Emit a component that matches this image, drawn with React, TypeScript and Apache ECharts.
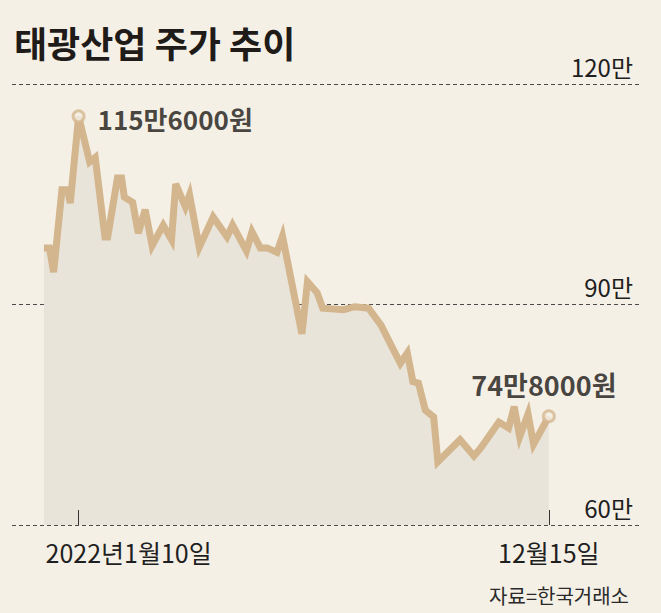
import React, { useEffect, useRef } from "react";
import * as echarts from "echarts";

const dates: string[] = [
  "2021-12-16", "2021-12-20", "2021-12-23", "2021-12-29", "2022-01-02", "2022-01-04",
  "2022-01-10", "2022-01-18", "2022-01-22", "2022-01-29", "2022-01-31", "2022-02-07",
  "2022-02-10", "2022-02-12", "2022-02-18", "2022-02-22", "2022-02-27", "2022-03-04",
  "2022-03-12", "2022-03-18", "2022-03-21", "2022-03-28", "2022-03-31", "2022-04-07",
  "2022-04-17", "2022-04-27", "2022-05-01", "2022-05-11", "2022-05-15", "2022-05-21",
  "2022-05-26", "2022-06-02", "2022-06-06", "2022-06-20", "2022-06-24", "2022-07-01",
  "2022-07-05", "2022-07-20", "2022-07-28", "2022-08-07", "2022-08-16", "2022-08-24",
  "2022-08-30", "2022-09-04", "2022-09-08", "2022-09-12", "2022-09-17", "2022-09-23",
  "2022-09-26", "2022-10-12", "2022-10-22", "2022-10-27", "2022-11-09", "2022-11-16",
  "2022-11-20", "2022-11-24", "2022-11-30", "2022-12-04", "2022-12-15",
];

// 주가 (만원)
const prices: number[] = [
  97.7, 97.7, 94.4, 105.6, 105.6, 103.8,
  115.6, 109.4, 110.0, 99.2, 99.2, 107.2,
  107.2, 104.6, 103.9, 99.7, 102.9, 98.0,
  100.8, 98.8, 106.4, 103.3, 104.9, 97.8,
  101.9, 99.2, 100.8, 97.3, 99.9, 97.7,
  97.7, 97.1, 99.3, 86.0, 93.1, 91.6,
  89.5, 89.3, 89.7, 89.5, 87.2, 84.2,
  82.0, 83.4, 79.5, 79.3, 75.6, 74.7,
  68.6, 71.6, 69.4, 70.5, 74.0, 73.2,
  76.1, 72.0, 75.1, 71.0, 74.8,
];

const yTicks: number[] = [60, 90, 120];
const xTickDates: string[] = ["2022-01-10", "2022-12-15"];
const xTickLabels: string[] = ["2022년1월10일", "12월15일"];
const xRange: string[] = ["2021-11-23", "2023-02-18"];
const peakLabel = "115만6000원";
const lastLabel = "74만8000원";
const titleText = "태광산업 주가 추이";
const sourceText = "자료=한국거래소";

const FONT = '"Noto Sans CJK KR", "Noto Sans", sans-serif';
const BG = "#f5f0e6";
const LINE = "#d4b68e";
const FILL = "#e8e4da";

const DAY = 86400000;
const BASE = Date.UTC(2022, 0, 10);
function toDay(d: string): number {
  const [y, m, dd] = d.split("-").map(Number);
  return Math.round((Date.UTC(y, m - 1, dd) - BASE) / DAY);
}

export default function App() {
  const ref = useRef<HTMLDivElement>(null);

  useEffect(() => {
    if (!ref.current) return;
    const chart = echarts.init(ref.current, undefined, { renderer: "svg" });

    const seriesData = dates.map((d, i) => [toDay(d), prices[i]]);
    let peakIdx = 0;
    prices.forEach((p, i) => {
      if (p > prices[peakIdx]) peakIdx = i;
    });
    const lastIdx = prices.length - 1;
    const tickDays = xTickDates.map(toDay);

    const option: any = {
      animation: false,
      backgroundColor: BG,
      textStyle: { fontFamily: FONT },
      title: [
        {
          text: titleText,
          left: 9,
          top: 19,
          textStyle: { fontSize: 36, fontWeight: "bold", color: "#1f1b18", fontFamily: FONT },
        },
        {
          text: sourceText,
          right: 27,
          top: 580,
          textStyle: { fontSize: 20, fontWeight: "normal", color: "#2a2a2a", fontFamily: FONT },
        },
      ],
      grid: { left: 12, right: 22, top: 84, bottom: 88 },
      xAxis: {
        type: "value",
        z: 4,
        min: toDay(xRange[0]),
        max: toDay(xRange[1]),
        axisLine: { show: false },
        splitLine: { show: false },
        axisTick: {
          show: true,
          inside: true,
          length: 15,
          customValues: tickDays,
          lineStyle: { color: "#333", width: 1 },
        },
        axisLabel: {
          customValues: tickDays,
          margin: 14,
          fontSize: 25,
          color: "#1f1f1f",
          fontFamily: FONT,
          formatter: (v: number) => {
            const i = tickDays.indexOf(Math.round(v));
            if (i === 0) return "{a|" + xTickLabels[0] + "}";
            if (i === 1) return xTickLabels[1];
            return "";
          },
          rich: {
            a: { fontSize: 25, color: "#1f1f1f", fontFamily: FONT, padding: [0, 0, 0, 100] },
          },
        },
      },
      yAxis: {
        type: "value",
        position: "right",
        min: yTicks[0],
        max: yTicks[yTicks.length - 1],
        interval: 30,
        axisLine: { show: false },
        axisTick: { show: false },
        splitLine: { show: true, lineStyle: { color: "#4a4a4a", type: [4, 3], width: 1 } },
        axisLabel: {
          inside: true,
          margin: 6,
          fontSize: 24,
          color: "#1f1f1f",
          fontFamily: FONT,
          verticalAlign: "bottom",
          padding: [0, 0, 6, 0],
          formatter: (v: number) => v + "만",
        },
      },
      series: [
        {
          type: "line",
          data: seriesData,
          symbol: "none",
          lineStyle: { color: LINE, width: 7, join: "miter", miterLimit: 4 },
          areaStyle: { color: FILL, opacity: 1 },
          z: 2,
        },
        {
          type: "scatter",
          z: 5,
          symbol: "circle",
          symbolSize: 11,
          itemStyle: { color: BG, borderColor: LINE, borderWidth: 3 },
          data: [
            {
              value: seriesData[peakIdx],
              label: {
                show: true,
                position: "right",
                distance: 12,
                offset: [0, 2],
                formatter: peakLabel,
                fontSize: 26,
                fontWeight: "bold",
                color: "#1a1714",
                fontFamily: FONT,
              },
            },
            {
              value: seriesData[lastIdx],
              label: {
                show: true,
                position: "top",
                distance: 11,
                offset: [-5, 0],
                formatter: lastLabel,
                fontSize: 27,
                fontWeight: "bold",
                color: "#1a1714",
                fontFamily: FONT,
              },
            },
          ],
        },
      ],
    };

    chart.setOption(option);
    return () => chart.dispose();
  }, []);

  return (
    <div
      ref={ref}
      style={{ position: "fixed", left: 0, top: 0, width: 661, height: 613 }}
    />
  );
}
